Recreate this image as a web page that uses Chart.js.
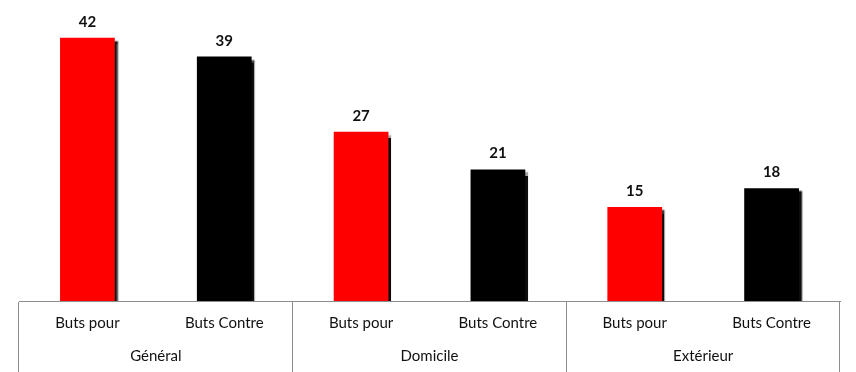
<!DOCTYPE html>
<html>
<head>
<meta charset="utf-8">
<script src="https://cdn.jsdelivr.net/npm/chart.js@4"></script>
<style>
  html, body { margin: 0; padding: 0; background: #fff; }
  #wrap { width: 856px; height: 372px; }
</style>
</head>
<body>
<div id="wrap"><canvas id="butsChart" width="856" height="372"></canvas></div>
<script>
// Données du graphique
const categories = ['Buts pour', 'Buts Contre', 'Buts pour', 'Buts Contre', 'Buts pour', 'Buts Contre'];
const groupes = ['Général', 'Domicile', 'Extérieur'];
const valeurs = [42, 39, 27, 21, 15, 18];
const couleurs = ['#ff0000', '#000000', '#ff0000', '#000000', '#ff0000', '#000000'];

const police = 'Lato, "Liberation Sans", sans-serif';

// Ombre portée sous les barres
const ombrePlugin = {
    id: 'ombre',
    beforeDatasetsDraw(chart) {
        const ctx = chart.ctx;
        ctx.save();
        ctx.shadowColor = 'rgba(0,0,0,0.95)';
        ctx.shadowOffsetX = 3;
        ctx.shadowOffsetY = 3;
        ctx.shadowBlur = 1.5;
    },
    afterDatasetsDraw(chart) {
        chart.ctx.restore();
    }
};

// Étiquettes de valeurs au-dessus des barres
const etiquettesPlugin = {
    id: 'etiquettes',
    afterDraw(chart) {
        const ctx = chart.ctx;
        const meta = chart.getDatasetMeta(0);
        ctx.save();
        ctx.font = 'bold 15px ' + police;
        ctx.fillStyle = '#111';
        ctx.textAlign = 'center';
        ctx.textBaseline = 'alphabetic';
        meta.data.forEach(function(bar, i) {
            ctx.fillText(String(valeurs[i]), bar.x, bar.y - 11);
        });
        ctx.restore();
    }
};

// Ligne de séparation seulement entre les groupes
function separateur(c) {
    if (c.index === undefined) return '#8c8c8c';
    return c.index % 2 === 0 ? '#8c8c8c' : 'rgba(0,0,0,0)';
}

const ctx = document.getElementById('butsChart').getContext('2d');
new Chart(ctx, {
    type: 'bar',
    data: {
        labels: categories,
        datasets: [{
            data: valeurs,
            backgroundColor: couleurs,
            borderWidth: 0,
            barPercentage: 0.5,
            categoryPercentage: 0.8
        }]
    },
    options: {
        responsive: false,
        animation: false,
        events: [],
        layout: { padding: { left: 19, right: 16, top: 19, bottom: 62 } },
        plugins: {
            legend: { display: false },
            tooltip: { enabled: false }
        },
        scales: {
            y: {
                display: false,
                min: 0,
                max: 45
            },
            x: {
                position: 'bottom',
                offset: true,
                border: { display: true, color: '#8c8c8c', width: 1 },
                grid: {
                    offset: true,
                    drawOnChartArea: false,
                    drawTicks: true,
                    tickLength: 71,
                    color: separateur,
                    lineWidth: 1
                },
                ticks: {
                    mirror: true,
                    padding: -31,
                    color: '#111',
                    font: { family: police, size: 15 },
                    maxRotation: 0,
                    autoSkip: false
                }
            },
            x2: {
                type: 'category',
                position: 'bottom',
                labels: groupes,
                offset: true,
                border: { display: false },
                grid: {
                    offset: true,
                    drawOnChartArea: false,
                    drawTicks: true,
                    tickLength: 110,
                    color: 'rgba(0,0,0,0)'
                },
                ticks: {
                    mirror: true,
                    padding: -55,
                    color: '#111',
                    font: { family: police, size: 15 },
                    maxRotation: 0,
                    autoSkip: false
                }
            }
        }
    },
    plugins: [ombrePlugin, etiquettesPlugin]
});
</script>
</body>
</html>
